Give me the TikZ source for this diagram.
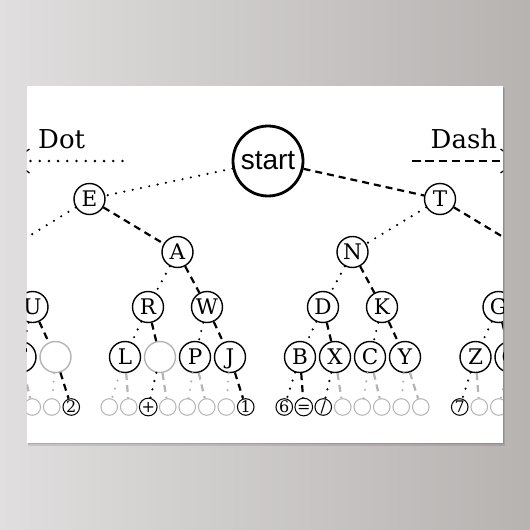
\documentclass[tikz,border=0pt]{standalone}
\usepackage{fontspec}
\newfontfamily\treefont{DejaVu Serif}
\newfontfamily\startfont{Liberation Sans}
\definecolor{lg}{HTML}{B4B4B4}
\definecolor{bgl}{HTML}{E0DEDE}
\definecolor{bgr}{HTML}{B6B3B1}
\tikzset{
  big/.style={circle, draw, line width=1.4pt, minimum size=31pt, inner sep=0pt,
    font=\treefont\fontsize{21.5}{21.5}\selectfont, text height=15.6pt, text depth=0pt},
  biggray/.style={big, draw=lg},
  hidden/.style={circle, minimum size=31pt, inner sep=0pt},
  small/.style={circle, draw, line width=1pt, minimum size=16.6pt, inner sep=0pt,
    font=\treefont\fontsize{16}{16}\selectfont, text height=11.6pt, text depth=0pt},
  smallgray/.style={small, draw=lg},
  dotl/.style={line width=2.4pt, line cap=round, dash pattern=on 0pt off 8.5pt},
  dashl/.style={line width=2.2pt, dash pattern=on 7pt off 5pt},
  legdot/.style={line width=2.8pt, line cap=round, dash pattern=on 0pt off 9.2pt},
  legdash/.style={line width=2.6pt, dash pattern=on 8.5pt off 4.8pt},
  legtext/.style={font=\treefont\fontsize{26}{26}\selectfont, inner sep=0pt, anchor=base west},
  startnode/.style={circle, draw, line width=2.8pt, minimum size=70pt, inner sep=0pt,
    font=\startfont\fontsize{28}{28}\selectfont},
}
\begin{document}
\begin{tikzpicture}[x=1pt,y=-1pt]
\useasboundingbox (0,0) rectangle (530,530);
\shade[left color=bgl, right color=bgr] (0,0) rectangle (530,530);
% poster shadow and sheet
\fill[black,opacity=0.10] (28,87.5) rectangle (505,446);
\fill[black,opacity=0.12] (27.5,87) rectangle (504,444.2);
\fill[white] (26.5,86) rectangle (503,443);
\begin{scope}
\clip (26.5,86) rectangle (503,443);
% legend
\node[legtext] (dot) at (38,148.5) {Dot};
\node[legtext] (dash) at (430.5,148.5) {Dash};
\coordinate (dotA) at (30.5,161);
\coordinate (dotB) at (123,161);
\coordinate (dashA) at (412,161);
\coordinate (dashB) at (510,161);
\draw[legdot] (dotA) -- (dotB);
\draw[legdash] (dashA) -- (dashB);
\coordinate (ltip) at (13,161);
\coordinate (lup) at (29.5,149);
\coordinate (llo) at (29.5,173);
\draw[line width=1.2pt] (lup) -- (ltip) -- (llo);
\coordinate (rtip) at (517,161);
\coordinate (rup) at (500.5,149);
\coordinate (rlo) at (500.5,173);
\draw[line width=1.2pt] (rup) -- (rtip) -- (rlo);
% level 0-2
\node[startnode] (start) at (268,161) {start};
\node[big] (E) at (89.5,199) {E};
\node[big] (T) at (440,199) {T};
\node[hidden] (I) at (3,252) {};
\node[big] (A) at (177.5,252) {A};
\node[big] (N) at (352.5,252) {N};
\node[hidden] (M) at (528,252) {};
% level 3
\node[big] (U) at (32.5,307) {U};
\node[big] (R) at (148,307) {R};
\node[big] (W) at (207,307) {W};
\node[big] (D) at (323,307) {D};
\node[big] (K) at (382,307) {K};
\node[big] (G) at (498.5,307) {G};
% level 4
\node[big] (F) at (20.5,357) {F};
\node[biggray] (UE) at (55.5,357) {};
\node[big] (L) at (125,357) {L};
\node[biggray] (AE) at (160,357) {};
\node[big] (P) at (195,357) {P};
\node[big] (J) at (230,357) {J};
\node[big] (B) at (300,357) {B};
\node[big] (X) at (335,357) {X};
\node[big] (C) at (370,357) {C};
\node[big] (Y) at (405,357) {Y};
\node[big] (Z) at (475.5,357) {Z};
\node[big] (Q) at (510.5,357) {Q};
% level 5
\node[smallgray] (f1) at (12.75,407) {};
\node[smallgray] (f2) at (32.25,407) {};
\node[smallgray] (u1) at (51.75,407) {};
\node[small] (u2) at (71.25,407) {2};
\node[smallgray] (l1) at (109.25,407) {};
\node[smallgray] (l2) at (128.75,407) {};
\node[small] (a1) at (148.25,407) {+};
\node[smallgray] (a2) at (167.75,407) {};
\node[smallgray] (p1) at (187.25,407) {};
\node[smallgray] (p2) at (206.75,407) {};
\node[smallgray] (j1) at (226.25,407) {};
\node[small] (j2) at (245.75,407) {1};
\node[small] (b1) at (284.25,407) {6};
\node[small] (b2) at (303.75,407) {=};
\node[small] (x1) at (323.25,407) {/};
\node[smallgray] (x2) at (342.75,407) {};
\node[smallgray] (c1) at (362.25,407) {};
\node[smallgray] (c2) at (381.75,407) {};
\node[smallgray] (y1) at (401.25,407) {};
\node[smallgray] (y2) at (420.75,407) {};
\node[small] (z1) at (459.75,407) {7};
\node[smallgray] (z2) at (479.25,407) {};
\node[smallgray] (q1) at (498.75,407) {};
\node[smallgray] (q2) at (518.25,407) {};
% edges
\draw[dotl] (start) -- (E);
\draw[dashl] (start) -- (T);
\draw[dotl] (E) -- (I);
\draw[dashl] (E) -- (A);
\draw[dotl] (T) -- (N);
\draw[dashl] (T) -- (M);
\draw[dashl] (I) -- (U);
\draw[dotl] (A) -- (R);
\draw[dashl] (A) -- (W);
\draw[dotl] (N) -- (D);
\draw[dashl] (N) -- (K);
\draw[dotl] (M) -- (G);
\draw[dotl] (U) -- (F);
\draw[dashl] (U) -- (UE);
\draw[dotl] (R) -- (L);
\draw[dashl] (R) -- (AE);
\draw[dotl] (W) -- (P);
\draw[dashl] (W) -- (J);
\draw[dotl] (D) -- (B);
\draw[dashl] (D) -- (X);
\draw[dotl] (K) -- (C);
\draw[dashl] (K) -- (Y);
\draw[dotl] (G) -- (Z);
\draw[dashl] (G) -- (Q);
% level 4 -> 5
\draw[dotl,lg] (F) -- (f1);
\draw[dashl,lg] (F) -- (f2);
\draw[dotl,lg] (UE) -- (u1);
\draw[dashl] (UE) -- (u2);
\draw[dotl,lg] (L) -- (l1);
\draw[dashl,lg] (L) -- (l2);
\draw[dotl] (AE) -- (a1);
\draw[dashl,lg] (AE) -- (a2);
\draw[dotl,lg] (P) -- (p1);
\draw[dashl,lg] (P) -- (p2);
\draw[dotl,lg] (J) -- (j1);
\draw[dashl] (J) -- (j2);
\draw[dotl] (B) -- (b1);
\draw[dashl] (B) -- (b2);
\draw[dotl] (X) -- (x1);
\draw[dashl,lg] (X) -- (x2);
\draw[dotl,lg] (C) -- (c1);
\draw[dashl,lg] (C) -- (c2);
\draw[dotl,lg] (Y) -- (y1);
\draw[dashl,lg] (Y) -- (y2);
\draw[dotl] (Z) -- (z1);
\draw[dashl,lg] (Z) -- (z2);
\draw[dotl,lg] (Q) -- (q1);
\draw[dashl,lg] (Q) -- (q2);
\end{scope}
\end{tikzpicture}
\end{document}
